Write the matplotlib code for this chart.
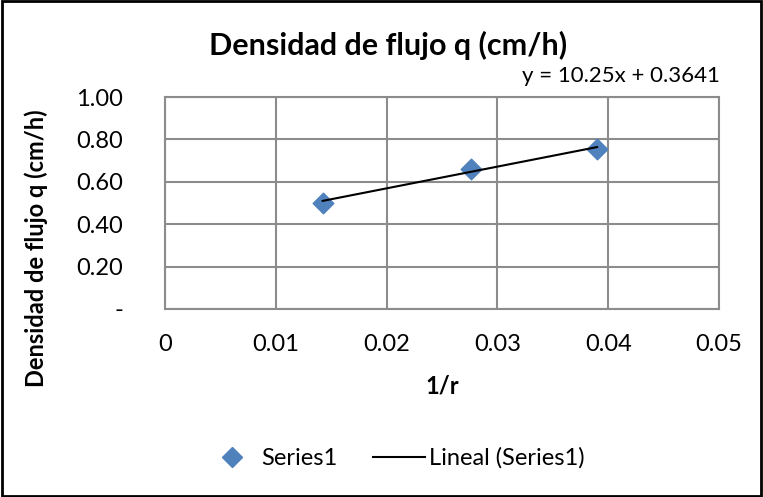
import numpy as np
import matplotlib
matplotlib.use("Agg")
import matplotlib.pyplot as plt
from matplotlib.lines import Line2D
from matplotlib.patches import Rectangle

# datos
inv_r = [0.01423, 0.02766, 0.0390]
q = [0.50, 0.66, 0.755]
slope, intercept = 10.25, 0.3641
x_ticks = [0, 0.01, 0.02, 0.03, 0.04, 0.05]
x_labels = ["0", "0.01", "0.02", "0.03", "0.04", "0.05"]
y_ticks = [0, 0.2, 0.4, 0.6, 0.8, 1.0]
y_labels = ["-", "0.20", "0.40", "0.60", "0.80", "1.00"]

plt.rcParams['font.family'] = ['Lato', 'DejaVu Sans']

fig = plt.figure(figsize=(7.63, 4.97), dpi=100)
ax = fig.add_axes([0.2163, 0.3783, 0.7260, 0.4265])

ax.scatter(inv_r, q, marker='D', s=110, color='#4F81BD', zorder=3)
xf = np.array([inv_r[0], inv_r[-1]])
ax.plot(xf, slope * xf + intercept, color='black', lw=1.5, zorder=4)

ax.set_xlim(0, 0.05)
ax.set_ylim(0, 1.0)
ax.set_xticks(x_ticks)
ax.set_xticklabels(x_labels)
ax.set_yticks(y_ticks)
ax.set_yticklabels(y_labels)
ax.tick_params(length=0, labelsize=17, pad=18)
ax.tick_params(axis='y', pad=30)
ax.grid(True, color='#8C8C8C', lw=1.5)
ax.set_axisbelow(True)
for s in ax.spines.values():
    s.set_color('#8C8C8C')
    s.set_linewidth(1.5)

ax.set_xlabel("1/r", fontsize=17, fontweight='bold', labelpad=14)
fig.text(0.047, 0.5, "Densidad de flujo q (cm/h)", fontsize=17, fontweight='bold',
         rotation=90, ha='center', va='center')
fig.text(0.509, 0.909, "Densidad de flujo q (cm/h)", fontsize=22, fontweight='bold',
         ha='center', va='center')
fig.text(0.943, 0.848, "y = 10.25x + 0.3641", fontsize=16, ha='right', va='center')

handles = [Line2D([], [], marker='D', ls='none', color='#4F81BD', markersize=10),
           Line2D([], [], color='black', lw=1.5)]
fig.legend(handles, ["Series1", "Lineal (Series1)"], loc='center', bbox_to_anchor=(0.518, 0.078),
           ncol=2, frameon=False, fontsize=17, handlelength=2.2, handletextpad=0.15,
           columnspacing=1.5)

fig.add_artist(Rectangle((0.002, 0.003), 0.996, 0.994, transform=fig.transFigure,
                         fill=False, ec='black', lw=2))

fig.savefig("out.png", dpi=100)
